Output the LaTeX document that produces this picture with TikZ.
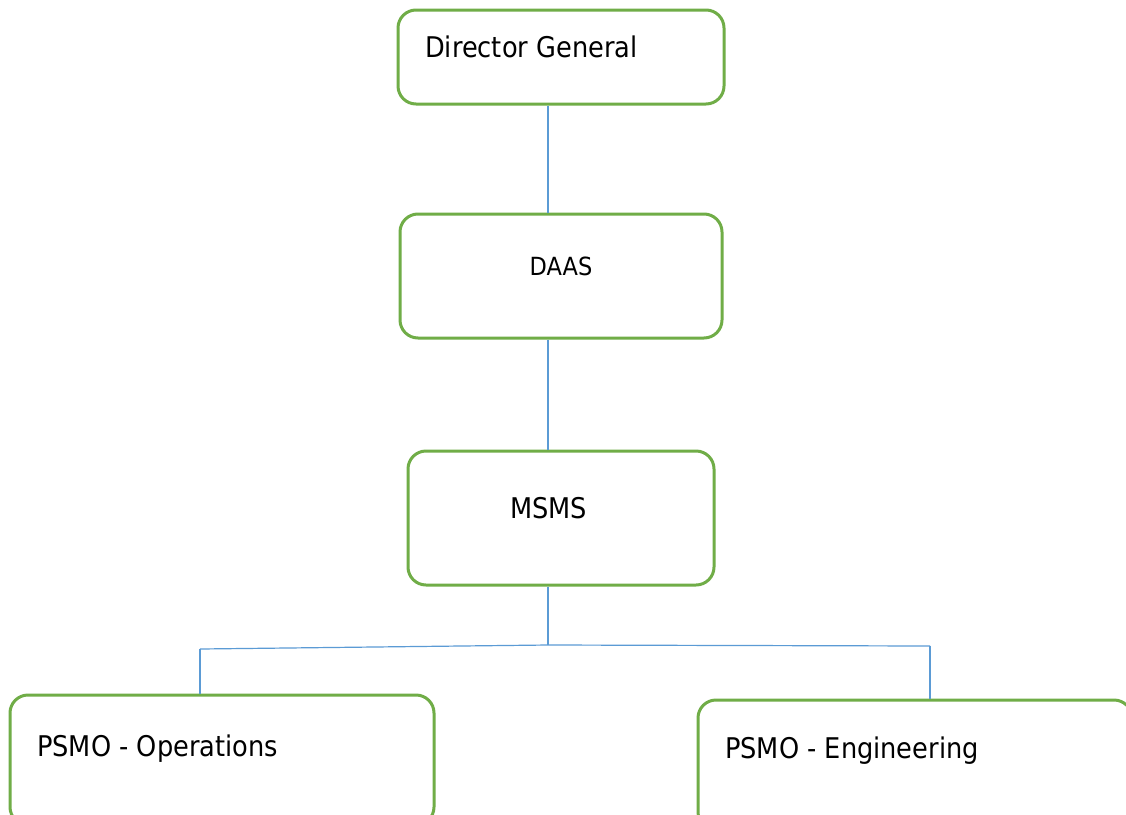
\documentclass[tikz,border=0pt]{standalone}
\usepackage{fontspec}
\setmainfont{DejaVu Sans}[FakeStretch=0.9]
\definecolor{boxgreen}{HTML}{70AD47}
\definecolor{linkblue}{HTML}{5B9BD5}
\begin{document}
\begin{tikzpicture}[x=1pt, y=-1pt,
  orgbox/.style={draw=boxgreen, line width=3pt, rounded corners=18pt, fill=white, inner sep=0pt},
  orgtext/.style={font=\fontsize{28.5}{30}\selectfont, anchor=base west, inner sep=0pt},
  link/.style={draw=linkblue, line width=1.2pt}] % {{{
\useasboundingbox (0,0) rectangle (1126,814);
\fill[white] (0,0) rectangle (1126,814);
% Cajas   {{{
\node[orgbox, minimum width=326, minimum height=94] (dg) at (561,57) {};
\node[orgbox, minimum width=322, minimum height=124] (daas) at (561,276) {};
\node[orgbox, minimum width=306, minimum height=134] (msms) at (561,518) {};
\node[orgbox, minimum width=424, minimum height=130] (ops) at (222,760) {};
\node[orgbox, minimum width=434, minimum height=130] (eng) at (915,765) {};
% }}}
% Textos   {{{
\node[orgtext] (dgtxt) at (425,57) {Director General};
\node[orgtext, anchor=base, font=\fontsize{25}{27}\selectfont] (daastxt) at (561,275) {DAAS};
\node[orgtext] (msmstxt) at (510,518) {MSMS};
\node[orgtext] (opstxt) at (37,756) {PSMO - Operations};
\node[orgtext] (engtxt) at (725,758) {PSMO - Engineering};
% }}}
% Conectores   {{{
\coordinate (trunk) at (548,0);
\coordinate (bl) at (200,649);
\coordinate (bm) at (548,645);
\coordinate (br) at (930,646);
\draw[link] (dg.south -| trunk) -- (daas.north -| trunk);
\draw[link] (daas.south -| trunk) -- (msms.north -| trunk);
\draw[link] (msms.south -| trunk) -- (bm);
\draw[link] (bl) -- (bm) -- (br);
\draw[link] (bl) -- (bl |- ops.north);
\draw[link] (br) -- (br |- eng.north);
% }}}
\end{tikzpicture} % }}}
\end{document}
